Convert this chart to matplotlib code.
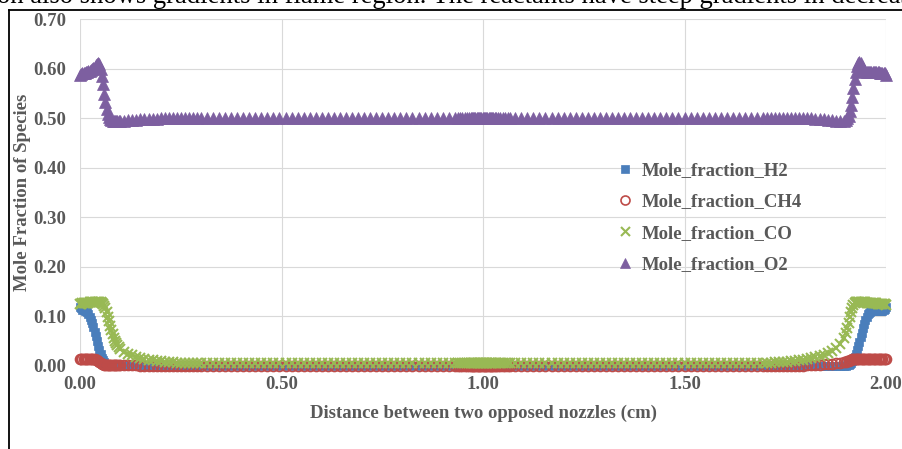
import matplotlib
matplotlib.use("Agg")
import matplotlib.pyplot as plt
from matplotlib.lines import Line2D

# Distance from the left nozzle (cm); grid is refined near both nozzles and at the centre
distance_cm = [
    # left nozzle / flame zone
    0.000, 0.003, 0.006, 0.009, 0.012, 0.015, 0.018, 0.021, 0.024, 0.027,
    0.030, 0.033, 0.036, 0.039, 0.042, 0.045, 0.048, 0.051, 0.054, 0.057,
    0.060, 0.063, 0.066, 0.069, 0.072, 0.075, 0.078, 0.081, 0.084, 0.087,
    0.090, 0.093, 0.096, 0.099,
    0.11, 0.12, 0.13, 0.14, 0.15, 0.16, 0.17, 0.18, 0.19, 0.20,
    0.21, 0.22, 0.23, 0.24, 0.25, 0.26, 0.27, 0.28, 0.29, 0.30,
    0.315, 0.330, 0.345, 0.360, 0.375, 0.390, 0.405, 0.420, 0.435, 0.450,
    0.465, 0.480, 0.495, 0.510, 0.525, 0.540, 0.555, 0.570, 0.585, 0.600,
    0.615, 0.630, 0.645, 0.660, 0.675, 0.690, 0.705, 0.720, 0.735, 0.750,
    0.765, 0.780, 0.795, 0.810, 0.825, 0.840, 0.855, 0.870, 0.885, 0.900,
    0.915, 0.930,
    # centre plane
    0.937, 0.943, 0.949, 0.955, 0.961, 0.966,
    0.969, 0.972, 0.975, 0.978, 0.981, 0.984, 0.987, 0.990, 0.993, 0.996,
    0.999, 1.002, 1.005, 1.008, 1.011, 1.014, 1.017, 1.020, 1.023, 1.026,
    1.029, 1.032,
    1.037, 1.043, 1.049, 1.055, 1.061, 1.067,
    1.080, 1.095, 1.110, 1.125, 1.140, 1.155, 1.170, 1.185, 1.200, 1.215,
    1.230, 1.245, 1.260, 1.275, 1.290, 1.305, 1.320, 1.335, 1.350, 1.365,
    1.380, 1.395, 1.410, 1.425, 1.440, 1.455, 1.470, 1.485, 1.500, 1.515,
    1.530, 1.545, 1.560, 1.575, 1.590, 1.605, 1.620, 1.635, 1.650, 1.665,
    1.680, 1.695,
    # right nozzle / flame zone
    1.705, 1.715, 1.725, 1.735, 1.745, 1.755, 1.765, 1.775, 1.785, 1.795,
    1.805, 1.815, 1.825, 1.835, 1.845, 1.855, 1.865, 1.875, 1.885, 1.895,
    1.901, 1.904, 1.907, 1.910, 1.913, 1.916, 1.919, 1.922, 1.925, 1.928,
    1.931, 1.934, 1.937, 1.940, 1.943, 1.946, 1.949, 1.952, 1.955, 1.958,
    1.961, 1.964, 1.967, 1.970, 1.973, 1.976, 1.979, 1.982, 1.985, 1.988,
    1.991, 1.994, 1.997, 2.000,
]

mole_fraction_h2 = [
    0.120, 0.116, 0.113, 0.112, 0.111, 0.110, 0.108, 0.104, 0.099, 0.093,
    0.086, 0.078, 0.069, 0.060, 0.050, 0.041, 0.032, 0.024, 0.017, 0.012,
    0.008, 0.005, 0.003, 0.002, 0.001, 0.001, 0.001, 0.001, 0.001, 0.001,
    0.000, 0.000, 0.000, 0.000,
    0.000, 0.000, 0.000, 0.000, 0.000, 0.000, 0.000, 0.000, 0.000, 0.000,
    0.000, 0.000, 0.000, 0.000, 0.000, 0.000, 0.000, 0.000, 0.000, 0.000,
    0.000, 0.000, 0.000, 0.000, 0.000, 0.000, 0.000, 0.000, 0.000, 0.000,
    0.000, 0.000, 0.000, 0.000, 0.000, 0.000, 0.000, 0.000, 0.000, 0.000,
    0.000, 0.000, 0.000, 0.000, 0.000, 0.000, 0.000, 0.000, 0.000, 0.000,
    0.000, 0.000, 0.000, 0.000, 0.000, 0.000, 0.000, 0.000, 0.000, 0.000,
    0.000, 0.000,
    0.000, 0.000, 0.000, 0.000, 0.000, 0.000,
    0.000, 0.000, 0.000, 0.000, 0.000, 0.000, 0.000, 0.000, 0.000, 0.000,
    0.000, 0.000, 0.000, 0.000, 0.000, 0.000, 0.000, 0.000, 0.000, 0.000,
    0.000, 0.000,
    0.000, 0.000, 0.000, 0.000, 0.000, 0.000,
    0.000, 0.000, 0.000, 0.000, 0.000, 0.000, 0.000, 0.000, 0.000, 0.000,
    0.000, 0.000, 0.000, 0.000, 0.000, 0.000, 0.000, 0.000, 0.000, 0.000,
    0.000, 0.000, 0.000, 0.000, 0.000, 0.000, 0.000, 0.000, 0.000, 0.000,
    0.000, 0.000, 0.000, 0.000, 0.000, 0.000, 0.000, 0.000, 0.000, 0.000,
    0.000, 0.000,
    0.000, 0.000, 0.000, 0.000, 0.000, 0.000, 0.000, 0.000, 0.000, 0.000,
    0.000, 0.000, 0.000, 0.000, 0.000, 0.000, 0.000, 0.000, 0.001, 0.001,
    0.001, 0.002, 0.003, 0.005, 0.007, 0.010, 0.014, 0.019, 0.025, 0.032,
    0.040, 0.049, 0.058, 0.067, 0.076, 0.084, 0.092, 0.099, 0.104, 0.107,
    0.109, 0.110, 0.111, 0.111, 0.111, 0.111, 0.111, 0.111, 0.111, 0.111,
    0.111, 0.112, 0.114, 0.120,
]

mole_fraction_ch4 = [
    0.014, 0.014, 0.014, 0.014, 0.014, 0.014, 0.014, 0.014, 0.014, 0.014,
    0.014, 0.014, 0.014, 0.013, 0.012, 0.010, 0.008, 0.006, 0.005, 0.004,
    0.003, 0.003, 0.002, 0.002, 0.002, 0.002, 0.002, 0.002, 0.002, 0.002,
    0.002, 0.002, 0.002, 0.002,
    0.002, 0.002, 0.002, 0.002, 0.001, 0.001, 0.001, 0.001, 0.001, 0.001,
    0.001, 0.001, 0.001, 0.001, 0.000, 0.000, 0.000, 0.000, 0.000, 0.000,
    0.000, 0.000, 0.000, 0.000, 0.000, 0.000, 0.000, 0.000, 0.000, 0.000,
    0.000, 0.000, 0.000, 0.000, 0.000, 0.000, 0.000, 0.000, 0.000, 0.000,
    0.000, 0.000, 0.000, 0.000, 0.000, 0.000, 0.000, 0.000, 0.000, 0.000,
    0.000, 0.000, 0.000, 0.000, 0.000, 0.000, 0.000, 0.000, 0.000, 0.000,
    0.000, 0.000,
    0.000, 0.000, 0.000, 0.000, 0.000, 0.000,
    0.000, 0.000, 0.000, 0.000, 0.000, 0.000, 0.000, 0.000, 0.000, 0.000,
    0.000, 0.000, 0.000, 0.000, 0.000, 0.000, 0.000, 0.000, 0.000, 0.000,
    0.000, 0.000,
    0.000, 0.000, 0.000, 0.000, 0.000, 0.000,
    0.000, 0.000, 0.000, 0.000, 0.000, 0.000, 0.000, 0.000, 0.000, 0.000,
    0.000, 0.000, 0.000, 0.000, 0.000, 0.000, 0.000, 0.000, 0.000, 0.000,
    0.000, 0.000, 0.000, 0.000, 0.000, 0.000, 0.000, 0.000, 0.000, 0.000,
    0.000, 0.000, 0.000, 0.000, 0.000, 0.000, 0.000, 0.000, 0.000, 0.000,
    0.000, 0.000,
    0.000, 0.000, 0.000, 0.000, 0.000, 0.000, 0.000, 0.000, 0.001, 0.001,
    0.002, 0.002, 0.003, 0.003, 0.004, 0.004, 0.005, 0.006, 0.007, 0.008,
    0.009, 0.010, 0.011, 0.012, 0.013, 0.014, 0.014, 0.015, 0.015, 0.015,
    0.015, 0.015, 0.015, 0.015, 0.015, 0.015, 0.015, 0.015, 0.015, 0.015,
    0.015, 0.015, 0.015, 0.015, 0.015, 0.015, 0.015, 0.015, 0.015, 0.015,
    0.015, 0.015, 0.015, 0.015,
]

mole_fraction_co = [
    0.125, 0.126, 0.127, 0.127, 0.128, 0.128, 0.128, 0.128, 0.129, 0.129,
    0.129, 0.130, 0.130, 0.130, 0.130, 0.130, 0.129, 0.129, 0.128, 0.126,
    0.122, 0.116, 0.108, 0.099, 0.090, 0.081, 0.072, 0.064, 0.057, 0.051,
    0.046, 0.042, 0.038, 0.035,
    0.029, 0.025, 0.022, 0.019, 0.017, 0.015, 0.013, 0.012, 0.011, 0.010,
    0.009, 0.008, 0.008, 0.007, 0.007, 0.007, 0.006, 0.006, 0.006, 0.006,
    0.006, 0.006, 0.006, 0.006, 0.006, 0.006, 0.006, 0.006, 0.006, 0.006,
    0.006, 0.006, 0.006, 0.006, 0.006, 0.006, 0.006, 0.006, 0.006, 0.006,
    0.006, 0.006, 0.006, 0.006, 0.006, 0.006, 0.006, 0.006, 0.006, 0.006,
    0.006, 0.006, 0.006, 0.006, 0.006, 0.006, 0.006, 0.006, 0.006, 0.006,
    0.006, 0.006,
    0.006, 0.006, 0.006, 0.006, 0.006, 0.006,
    0.006, 0.006, 0.006, 0.006, 0.006, 0.006, 0.006, 0.006, 0.006, 0.006,
    0.006, 0.006, 0.006, 0.006, 0.006, 0.006, 0.006, 0.006, 0.006, 0.006,
    0.006, 0.006,
    0.006, 0.006, 0.006, 0.006, 0.006, 0.006,
    0.006, 0.006, 0.006, 0.006, 0.006, 0.006, 0.006, 0.006, 0.006, 0.006,
    0.006, 0.006, 0.006, 0.006, 0.006, 0.006, 0.006, 0.006, 0.006, 0.006,
    0.006, 0.006, 0.006, 0.006, 0.006, 0.006, 0.006, 0.006, 0.006, 0.006,
    0.006, 0.006, 0.006, 0.006, 0.006, 0.006, 0.006, 0.006, 0.006, 0.006,
    0.006, 0.006,
    0.007, 0.007, 0.008, 0.008, 0.009, 0.009, 0.010, 0.011, 0.012, 0.013,
    0.014, 0.016, 0.018, 0.020, 0.023, 0.026, 0.030, 0.036, 0.044, 0.056,
    0.066, 0.076, 0.087, 0.098, 0.108, 0.117, 0.124, 0.128, 0.130, 0.130,
    0.130, 0.130, 0.130, 0.130, 0.130, 0.130, 0.129, 0.128, 0.128, 0.128,
    0.128, 0.128, 0.127, 0.127, 0.127, 0.127, 0.126, 0.126, 0.126, 0.126,
    0.126, 0.125, 0.125, 0.124,
]

mole_fraction_o2 = [
    0.588, 0.590, 0.591, 0.592, 0.592, 0.593, 0.594, 0.595, 0.596, 0.597,
    0.599, 0.601, 0.604, 0.607, 0.610, 0.612, 0.609, 0.600, 0.586, 0.568,
    0.549, 0.532, 0.518, 0.508, 0.502, 0.498, 0.496, 0.495, 0.495, 0.495,
    0.495, 0.495, 0.495, 0.495,
    0.495, 0.496, 0.496, 0.497, 0.498, 0.498, 0.499, 0.499, 0.499, 0.500,
    0.500, 0.500, 0.500, 0.500, 0.500, 0.500, 0.500, 0.500, 0.500, 0.500,
    0.500, 0.500, 0.500, 0.500, 0.500, 0.500, 0.500, 0.500, 0.500, 0.500,
    0.500, 0.500, 0.500, 0.500, 0.500, 0.500, 0.500, 0.500, 0.500, 0.500,
    0.500, 0.500, 0.500, 0.500, 0.500, 0.500, 0.500, 0.500, 0.500, 0.500,
    0.500, 0.500, 0.500, 0.500, 0.500, 0.500, 0.500, 0.500, 0.500, 0.500,
    0.500, 0.500,
    0.500, 0.500, 0.500, 0.500, 0.500, 0.500,
    0.500, 0.500, 0.500, 0.500, 0.500, 0.500, 0.500, 0.500, 0.500, 0.500,
    0.500, 0.500, 0.500, 0.500, 0.500, 0.500, 0.500, 0.500, 0.500, 0.500,
    0.500, 0.500,
    0.500, 0.500, 0.500, 0.500, 0.500, 0.500,
    0.500, 0.500, 0.500, 0.500, 0.500, 0.500, 0.500, 0.500, 0.500, 0.500,
    0.500, 0.500, 0.500, 0.500, 0.500, 0.500, 0.500, 0.500, 0.500, 0.500,
    0.500, 0.500, 0.500, 0.500, 0.500, 0.500, 0.500, 0.500, 0.500, 0.500,
    0.500, 0.500, 0.500, 0.500, 0.500, 0.500, 0.500, 0.500, 0.500, 0.500,
    0.500, 0.500,
    0.500, 0.500, 0.500, 0.500, 0.500, 0.500, 0.500, 0.500, 0.500, 0.500,
    0.500, 0.500, 0.499, 0.499, 0.498, 0.497, 0.496, 0.495, 0.495, 0.495,
    0.497, 0.500, 0.505, 0.514, 0.527, 0.543, 0.561, 0.579, 0.594, 0.605,
    0.611, 0.613, 0.611, 0.606, 0.601, 0.597, 0.595, 0.594, 0.594, 0.594,
    0.594, 0.594, 0.594, 0.593, 0.593, 0.593, 0.593, 0.593, 0.592, 0.592,
    0.592, 0.592, 0.591, 0.588,
]

series_labels = ["Mole_fraction_H2", "Mole_fraction_CH4",
                 "Mole_fraction_CO", "Mole_fraction_O2"]
x_ticks = [0.0, 0.5, 1.0, 1.5, 2.0]
y_ticks = [0.0, 0.1, 0.2, 0.3, 0.4, 0.5, 0.6, 0.7]
x_title = "Distance between two opposed nozzles (cm)"
y_title = "Mole Fraction of Species"
page_line = ("on also shows gradients in flame region. The reactants have "
             "steep gradients in decreasing")

SERIF = "Liberation Serif"
GREY = "#595959"
FS = 13.5
W, H = 902, 449

fig = plt.figure(figsize=(W / 100, H / 100), dpi=100)
fig.patch.set_facecolor("white")

# plot area in pixel terms
left, right, top, bottom = 80, 886, 19, 366
ax = fig.add_axes([left / W, (H - bottom) / H, (right - left) / W, (bottom - top) / H])
ax.set_xlim(0.0, 2.0)
ax.set_ylim(0.0, 0.70)

styles = [
    dict(marker="s", markersize=5.8, color="#4a7ebb", markeredgewidth=0.5),
    dict(marker="o", markersize=7.2, markerfacecolor="none",
         markeredgecolor="#be4b48", markeredgewidth=1.2),
    dict(marker="x", markersize=7.2, color="#98b954", markeredgewidth=1.5),
    dict(marker="^", markersize=8.6, color="#7d5fa0", markeredgewidth=0.5),
]
series = [mole_fraction_h2, mole_fraction_ch4, mole_fraction_co, mole_fraction_o2]
for values, label, st in zip(series, series_labels, styles):
    ax.plot(distance_cm, values, linestyle="none", label=label,
            clip_on=False, zorder=3, **st)

ax.set_xticks(x_ticks)
ax.set_yticks(y_ticks)
ax.set_xticklabels([f"{v:.2f}" for v in x_ticks])
ax.set_yticklabels([f"{v:.2f}" for v in y_ticks])
for lab in ax.get_xticklabels() + ax.get_yticklabels():
    lab.set_fontfamily(SERIF)
    lab.set_fontweight("bold")
    lab.set_fontsize(FS)
    lab.set_color(GREY)
ax.tick_params(axis="x", length=0, pad=7)
ax.tick_params(axis="y", length=0, pad=10)

ax.grid(True, color="#d9d9d9", linewidth=0.8, zorder=0)
ax.set_axisbelow(True)
for s in ax.spines.values():
    s.set_visible(False)

ax.set_xlabel(x_title, fontfamily=SERIF, fontweight="bold", fontsize=FS, color=GREY)
ax.xaxis.set_label_coords(0.5, -(413 - bottom) / (bottom - top), transform=ax.transAxes)
ax.xaxis.label.set_va("center")
ax.set_ylabel(y_title, fontfamily=SERIF, fontweight="bold", fontsize=FS, color=GREY)
ax.yaxis.set_label_coords(-(left - 23) / (right - left), 0.5, transform=ax.transAxes)
ax.yaxis.label.set_va("center")

leg = ax.legend(loc="upper left", bbox_to_anchor=(616 / W, 1 - 162 / H),
                bbox_transform=fig.transFigure, frameon=False,
                prop=dict(family=SERIF, weight="bold", size=FS),
                handlelength=1.0, handletextpad=0.35, labelspacing=0.76,
                borderpad=0, borderaxespad=0, markerscale=0.9)
for t in leg.get_texts():
    t.set_color(GREY)

# page frame and the text line running above it
fig.add_artist(Line2D([8.5 / W, 8.5 / W], [0, 1 - 9.5 / H],
                      transform=fig.transFigure, color="black", linewidth=1.3))
fig.add_artist(Line2D([8.5 / W, 1], [1 - 9.5 / H, 1 - 9.5 / H],
                      transform=fig.transFigure, color="black", linewidth=1.3))
fig.text(-3 / W, 1 - 3 / H, page_line, fontfamily=SERIF, fontsize=19.2,
         color="black", ha="left", va="baseline")

fig.savefig("out.png", dpi=100)
